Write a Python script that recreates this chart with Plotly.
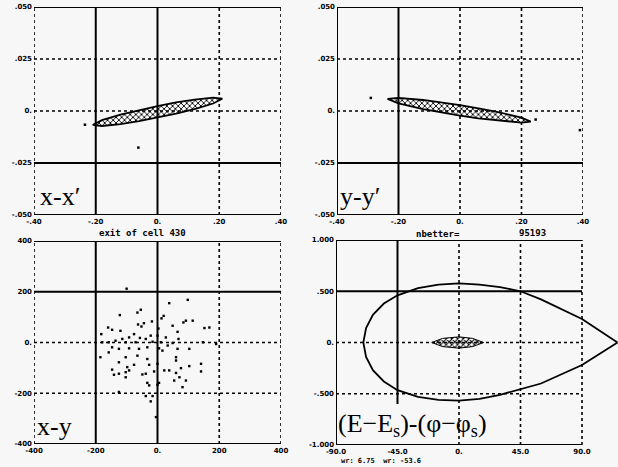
import plotly.graph_objects as go

# ---------------- data ----------------
# panel 1: x-x' emittance ellipse boundary (upper edge left->right, lower edge right->left)
xx_upper_x = [-0.21, -0.18, -0.12, -0.06, 0.0, 0.06, 0.12, 0.18, 0.21]
xx_upper_y = [-0.0067, -0.0044, -0.0017, 0.0005, 0.0024, 0.0041, 0.0055, 0.0064, 0.0059]
xx_lower_x = [0.21, 0.18, 0.12, 0.06, 0.0, -0.06, -0.12, -0.18, -0.21]
xx_lower_y = [0.0059, 0.0036, 0.0009, -0.0013, -0.0032, -0.0049, -0.0063, -0.0072, -0.0067]
xx_stray_x = [-0.235, -0.062]
xx_stray_y = [-0.0066, -0.0176]

# panel 2: y-y' emittance ellipse boundary
yy_upper_x = [-0.236, -0.20, -0.12, -0.06, 0.0, 0.06, 0.12, 0.20, 0.23]
yy_upper_y = [0.0058, 0.0063, 0.0053, 0.0041, 0.0028, 0.0013, -0.0004, -0.0032, -0.0051]
yy_lower_x = [0.23, 0.20, 0.12, 0.06, 0.0, -0.06, -0.12, -0.20, -0.236]
yy_lower_y = [-0.0051, -0.0056, -0.0046, -0.0035, -0.0022, -0.0007, 0.0009, 0.0037, 0.0058]
yy_stray_x = [-0.29, 0.246, 0.39]
yy_stray_y = [0.0063, -0.0041, -0.0092]

# panel 3: x-y particle positions
xy_x = [98, 38, -54, -65, -122, 20, 13, 92, 84, 114, -18, -44, -63, -52, -160, -147, -120,
        49, 152, 168, 3, 65, -182, -76, -92, -22, 0, 27, -57, -38, -114, 68, -136, -158,
        -179, -103, -71, -16, 11, 49, 147, 190, 33, -147, -125, -92, -60, -33, 5, 65, 103,
        -158, 16, -185, -103, -65, -33, 60, -125, 0, -76, -27, 60, 103, 141, -98,
        -147, -103, -92, -125, -141, -103, -38, -49, -11, 22, 38, 60, 141, 71, 54, 92,
        -33, -27, 5, 0, 81, -125, -38, -22, -16, 76, -100, -5]
xy_y = [168, 155, 129, 118, 108, 105, 95, 86, 79, 86, 83, 76, 71, 63, 59, 50, 46,
        66, 57, 59, 55, 42, 33, 33, 20, 27, 27, 20, 18, 14, 14, 14, 7, 1,
        1, 1, 1, 3, 1, -2, 1, -6, -12, -19, -25, -23, -25, -19, -23, -25, -25,
        -39, -32, -58, -58, -52, -65, -58, -78, -84, -88, -88, -71, -93, -84, -97,
        -107, -117, -110, -123, -127, -137, -123, -126, -114, -110, -110, -120, -114, -137, -150, -150,
        -159, -169, -159, -167, -176, -195, -211, -232, -211, -101, 212, -294]

# panel 4: longitudinal separatrix and bunch
sep_x = [116, 90, 60, 45, 30, 15, 0, -15, -30, -45, -55, -63, -68, -70,
         -68, -63, -55, -45, -30, -15, 0, 15, 30, 45, 60, 90, 116]
sep_y = [0.0, 0.23, 0.42, 0.50, 0.54, 0.565, 0.577, 0.565, 0.53, 0.46, 0.38, 0.27, 0.14, 0.0,
         -0.14, -0.27, -0.38, -0.465, -0.53, -0.56, -0.567, -0.55, -0.51, -0.455, -0.40, -0.22, 0.0]
bunch_x = [-20, -12, 0, 10, 18, 10, 0, -12, -20]
bunch_y = [0.0, 0.04, 0.055, 0.04, 0.0, -0.04, -0.055, -0.04, 0.0]

# tick values / labels
t12_x = [-0.40, -0.20, 0.0, 0.20, 0.40]
t12_xl = ["-.40", "-.20", "0.", ".20", ".40"]
t12_y = [-0.050, -0.025, 0.0, 0.025, 0.050]
t12_yl = ["-.050", "-.025", "0.", ".025", ".050"]
t3_v = [-400, -200, 0, 200, 400]
t3_l = ["-400", "-200", "0.", "200", "400"]
t4_x = [-90, -45, 0, 45, 90]
t4_xl = ["-90.0", "-45.0", "0.", "45.0", "90.0"]
t4_y = [-1.0, -0.5, 0.0, 0.5, 1.0]
t4_yl = ["-1.000", "-.500", "0.", ".500", "1.000"]

BG = "#f7f7f7"
INK = "black"

fig = go.Figure()


def ellipse(xs_u, ys_u, xs_l, ys_l, xa, ya):
    fig.add_trace(go.Scatter(
        x=xs_u + xs_l, y=ys_u + ys_l, xaxis=xa, yaxis=ya, mode="lines",
        fill="toself", fillcolor="white",
        fillpattern=dict(shape="x", fgcolor=INK, bgcolor="white", size=4, solidity=0.4),
        line=dict(color=INK, width=1.8), showlegend=False, hoverinfo="skip"))


ellipse(xx_upper_x, xx_upper_y, xx_lower_x, xx_lower_y, "x", "y")
fig.add_trace(go.Scatter(x=xx_stray_x, y=xx_stray_y, xaxis="x", yaxis="y", mode="markers",
                         marker=dict(color=INK, size=2.5, symbol="square"), showlegend=False))
ellipse(yy_upper_x, yy_upper_y, yy_lower_x, yy_lower_y, "x2", "y2")
fig.add_trace(go.Scatter(x=yy_stray_x, y=yy_stray_y, xaxis="x2", yaxis="y2", mode="markers",
                         marker=dict(color=INK, size=2.5, symbol="square"), showlegend=False))
fig.add_trace(go.Scatter(x=xy_x, y=xy_y, xaxis="x3", yaxis="y3", mode="markers",
                         marker=dict(color=INK, size=2.4, symbol="square"), showlegend=False))
fig.add_trace(go.Scatter(x=sep_x, y=sep_y, xaxis="x4", yaxis="y4", mode="lines",
                         line=dict(color=INK, width=1.8), showlegend=False))
fig.add_trace(go.Scatter(x=bunch_x, y=bunch_y, xaxis="x4", yaxis="y4", mode="lines",
                         fill="toself", fillcolor="white",
                         fillpattern=dict(shape="x", fgcolor=INK, bgcolor="white", size=4, solidity=0.45),
                         line=dict(color=INK, width=1), showlegend=False))

W, H = 618, 467
def dom(a, b, n):
    return [a / n, b / n]

tick_font = dict(family="DejaVu Sans", size=7, color=INK, weight="bold")

def axis(domain, rng, tv, tt, anchor):
    return dict(domain=domain, range=rng, tickvals=tv, ticktext=tt, showgrid=False,
                zeroline=False, showline=False, ticks="", anchor=anchor, tickfont=tick_font,
                ticklabelstandoff=1, fixedrange=True, automargin=False)

fig.update_layout(
    template="none",
    width=W, height=H, margin=dict(l=0, r=0, t=0, b=0, pad=0),
    paper_bgcolor=BG, plot_bgcolor="rgba(0,0,0,0)",
    xaxis=axis(dom(34, 281, W), [-0.40, 0.40], t12_x, t12_xl, "y"),
    yaxis=axis([1 - 215 / H, 1 - 7 / H], [-0.05, 0.05], t12_y, t12_yl, "x"),
    xaxis2=axis(dom(337, 583, W), [-0.40, 0.40], t12_x, t12_xl, "y2"),
    yaxis2=axis([1 - 215 / H, 1 - 7 / H], [-0.05, 0.05], t12_y, t12_yl, "x2"),
    xaxis3=axis(dom(34, 281, W), [-400, 400], t3_v, t3_l, "y3"),
    yaxis3=axis([1 - 444 / H, 1 - 241 / H], [-400, 400], t3_v, t3_l, "x3"),
    xaxis4=axis(dom(336, 618, W), [-90, -90 + 282 * 180 / 246], t4_x, t4_xl, "y4"),
    yaxis4=axis([1 - 445 / H, 1 - 240 / H], [-1.0, 1.0], t4_y, t4_yl, "x4"),
)

SOLID = dict(color=INK, width=2)
DOT = dict(color=INK, width=1.6, dash="dot")

def vline(xa, ya, xv, style, y0=0, y1=1):
    fig.add_shape(type="line", xref=xa, yref=ya + " domain", x0=xv, x1=xv, y0=y0, y1=y1, line=style)

def hline(xa, ya, yv, style, x0=0, x1=1):
    fig.add_shape(type="line", xref=xa + " domain", yref=ya, x0=x0, x1=x1, y0=yv, y1=yv, line=style)

# panel 1 grid/frame
vline("x", "y", t12_x[0], DOT); vline("x", "y", t12_x[1], SOLID); vline("x", "y", t12_x[2], SOLID)
vline("x", "y", t12_x[3], DOT); vline("x", "y", t12_x[4], DOT)
hline("x", "y", t12_y[0], SOLID); hline("x", "y", t12_y[1], SOLID); hline("x", "y", t12_y[2], DOT)
hline("x", "y", t12_y[3], DOT); hline("x", "y", t12_y[4], SOLID)
# panel 2
vline("x2", "y2", t12_x[0], SOLID); vline("x2", "y2", t12_x[1], SOLID); vline("x2", "y2", t12_x[2], DOT)
vline("x2", "y2", t12_x[3], DOT); vline("x2", "y2", t12_x[4], DOT)
hline("x2", "y2", t12_y[0], SOLID); hline("x2", "y2", t12_y[1], SOLID); hline("x2", "y2", t12_y[2], DOT)
hline("x2", "y2", t12_y[3], DOT); hline("x2", "y2", t12_y[4], SOLID)
# panel 3
vline("x3", "y3", t3_v[0], DOT); vline("x3", "y3", t3_v[1], SOLID); vline("x3", "y3", t3_v[2], SOLID)
vline("x3", "y3", t3_v[3], DOT); vline("x3", "y3", t3_v[4], DOT)
hline("x3", "y3", t3_v[0], SOLID); hline("x3", "y3", t3_v[1], DOT); hline("x3", "y3", t3_v[2], DOT)
hline("x3", "y3", t3_v[3], SOLID); hline("x3", "y3", t3_v[4], SOLID)
# panel 4 (x-domain fraction of the framed part)
f4 = 246 / 282
vline("x4", "y4", t4_x[0], SOLID); vline("x4", "y4", t4_x[1], SOLID, y0=0.2)
vline("x4", "y4", t4_x[2], DOT); vline("x4", "y4", t4_x[3], DOT); vline("x4", "y4", t4_x[4], DOT)
hline("x4", "y4", t4_y[0], SOLID, x1=f4); hline("x4", "y4", t4_y[1], DOT, x1=f4)
hline("x4", "y4", t4_y[2], DOT, x1=f4); hline("x4", "y4", t4_y[3], SOLID, x1=f4)
hline("x4", "y4", t4_y[4], SOLID, x1=f4)

# panel labels
lab_font = dict(family="Liberation Serif", size=26, color=INK)
def label(txt, px, py):
    fig.add_annotation(text=txt, xref="paper", yref="paper", x=px / W, y=1 - py / H,
                       xanchor="left", yanchor="bottom", showarrow=False, font=lab_font)

label("x-x′", 38, 213)
label("y-y′", 338, 213)
label("x-y", 35, 443)
label("(E−E<sub>s</sub>)-(φ−φ<sub>s</sub>)", 336, 443)

small = dict(family="DejaVu Sans Mono", size=9, color=INK, weight="bold")
def note(txt, px, py, size=9):
    f = dict(small); f["size"] = size
    fig.add_annotation(text=txt, xref="paper", yref="paper", x=px / W, y=1 - py / H,
                       xanchor="center", yanchor="middle", showarrow=False, font=f)

note("exit of cell 430", 142, 233)
note("nbetter=", 438, 234)
note("95193", 532, 233)
note("wr: 6.75  wr: -53.6", 381, 461, size=7)

fig.write_html("out.html", config={"displayModeBar": False},
               post_script="document.body.style.margin='0';document.body.style.overflow='hidden';")
